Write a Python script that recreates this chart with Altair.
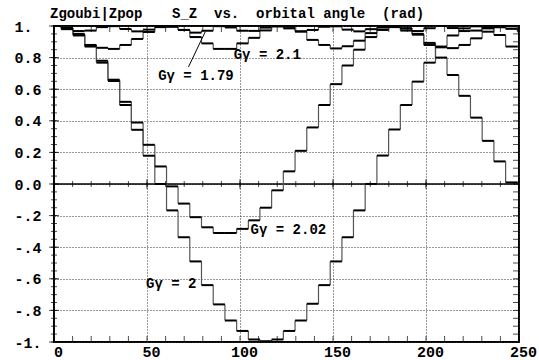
import altair as alt
import pandas as pd

# Orbital angle (rad) at which each one-turn sample starts
ANGLE = [0.0, 3.9, 10.2, 16.5, 22.8, 29.0, 35.3, 41.6, 47.9, 54.2,
         60.5, 66.7, 73.0, 79.3, 85.6, 91.9, 98.2, 104.5, 110.7, 117.0,
         123.3, 129.6, 135.9, 142.2, 148.5, 154.8, 161.0, 167.3, 173.6, 179.9,
         186.2, 192.5, 198.8, 205.1, 211.3, 217.6, 223.9, 230.2, 236.5, 242.8,
         249.1]
X_END = 250.0

# Vertical spin component S_Z, one value per turn
SZ_179 = [1.0, 0.987, 0.968, 0.971, 0.993, 0.999, 0.981, 0.966, 0.977, 0.997,
          0.995, 0.975, 0.958, 0.97, 0.999, 0.991, 0.97, 0.969, 0.99, 1.0,
          0.985, 0.966, 0.975, 0.995, 0.998, 0.977, 0.966, 0.98, 0.999, 0.993,
          0.971, 0.968, 0.986, 1.0, 0.987, 0.968, 0.971, 0.992, 0.999, 0.982,
          0.966]
SZ_210 = [1.0, 0.985, 0.95, 0.875, 0.862, 0.855, 0.88, 0.918, 0.962, 0.993,
          0.998, 0.975, 0.93, 0.89, 0.855, 0.855, 0.89, 0.925, 0.972, 0.997,
          0.995, 0.965, 0.912, 0.88, 0.858, 0.872, 0.907, 0.955, 0.99, 0.999,
          0.985, 0.945, 0.893, 0.865, 0.86, 0.88, 0.922, 0.964, 0.992, 0.998,
          0.98]
SZ_202 = [1.0, 0.98, 0.94, 0.87, 0.78, 0.66, 0.52, 0.389, 0.248, 0.111,
          -0.015, -0.124, -0.21, -0.274, -0.31, -0.31, -0.284, -0.23, -0.15, -0.04,
          0.08, 0.21, 0.358, 0.50, 0.632, 0.75, 0.85, 0.93, 0.975, 0.997,
          0.985, 0.95, 0.88, 0.80, 0.69, 0.558, 0.42, 0.273, 0.143, 0.01,
          0.01]
SZ_200 = [1.0, 0.985, 0.943, 0.88, 0.768, 0.652, 0.50, 0.343, 0.179, 0.0,
          -0.167, -0.337, -0.49, -0.64, -0.762, -0.864, -0.93, -0.984, -0.995, -0.984,
          -0.93, -0.864, -0.758, -0.64, -0.49, -0.337, -0.167, 0.0, 0.18, 0.345,
          0.50, 0.648, 0.768, 0.87, 0.94, 0.985, 0.998, 0.985, 0.943, 0.87,
          0.87]

CURVES = {"1.79": SZ_179, "2.1": SZ_210, "2.02": SZ_202, "2": SZ_200}

# Curve labels and the leader line for the 1.79 label
LABEL_TEXT = ["Gγ = 1.79", "Gγ = 2.1", "Gγ = 2.02", "Gγ = 2"]
LABEL_X = [56.0, 96.6, 105.7, 49.5]
LABEL_Y = [0.684, 0.817, -0.29, -0.632]
LEADER = {"x": 72.3, "y": 0.741, "x2": 81.3, "y2": 0.963}

X_TICKS = [0, 50, 100, 150, 200, 250]
Y_TICKS = [1.0, 0.8, 0.6, 0.4, 0.2, 0.0, -0.2, -0.4, -0.6, -0.8, -1.0]
Y_LABELS = ["1.", "0.8", "0.6", "0.4", "0.2", "0.0", "-.2", "-.4", "-.6", "-.8", "-1."]

TITLE_LEFT = "Zgoubi|Zpop"
TITLE_RIGHT = "S_Z\u00a0\u00a0vs.\u00a0\u00a0orbital\u00a0angle\u00a0\u00a0(rad)"

FONT = "Liberation Mono"

# Step segments: flat part for each turn, riser between turns
flat_rows, rise_rows = [], []
for name, vals in CURVES.items():
    for j, v in enumerate(vals):
        x_next = ANGLE[j + 1] if j + 1 < len(ANGLE) else X_END
        flat_rows.append({"curve": name, "x": ANGLE[j], "x2": x_next, "y": v})
        if j + 1 < len(vals):
            rise_rows.append({"curve": name, "x": ANGLE[j + 1], "y": v, "y2": vals[j + 1]})
flat_df = pd.DataFrame(flat_rows)
rise_df = pd.DataFrame(rise_rows)

xs = alt.Scale(domain=[0, 250], nice=False, zero=False)
ys = alt.Scale(domain=[-1, 1], nice=False, zero=False)

label_expr = "".join(
    f"abs(datum.value - ({v})) < 1e-6 ? '{lab}' : " for v, lab in zip(Y_TICKS, Y_LABELS)
) + "''"

X_AXIS = alt.Axis(values=X_TICKS, grid=True, gridDash=[1, 2], gridColor="#333",
                  gridWidth=1, ticks=False, domain=False, labelFont=FONT,
                  labelFontSize=15, labelFontWeight="bold", labelColor="black",
                  labelPadding=2, labelOffset=4, labelFlush=False, title=None)
Y_AXIS = alt.Axis(values=Y_TICKS, grid=True, gridDash=[1, 2], gridColor="#333",
                  gridWidth=1, ticks=False, domain=False, labelFont=FONT,
                  labelFontSize=15, labelFontWeight="bold", labelColor="black",
                  labelAlign="left", labelBaseline="middle", labelPadding=40,
                  labelExpr=label_expr, labelFlush=False, title=None)


def X(field):
    return alt.X(field, scale=xs, axis=X_AXIS)


def Y(field):
    return alt.Y(field, scale=ys, axis=Y_AXIS)


# Zero line
zero_line = alt.Chart(pd.DataFrame({"y": [0.0]})).mark_rule(color="black", strokeWidth=1.5).encode(
    y=Y("y:Q"))

# Tick marks on frame and zero line
y_minor = [round(-1 + 0.05 * i, 2) for i in range(41)]
y_major = [round(-1 + 0.2 * i, 1) for i in range(11)]
x_minor = [10 * i for i in range(26)]
x_major = [50 * i for i in range(6)]


def yticks(vals, xpos, size, offset=0):
    df = pd.DataFrame({"x": [xpos] * len(vals), "y": vals})
    return alt.Chart(df).mark_tick(orient="horizontal", size=size, thickness=1,
                                   color="black", xOffset=offset).encode(x=X("x:Q"), y=Y("y:Q"))


def xticks(vals, ypos, size, offset=0):
    df = pd.DataFrame({"x": vals, "y": [ypos] * len(vals)})
    return alt.Chart(df).mark_tick(orient="vertical", size=size, thickness=1,
                                   color="black", yOffset=offset).encode(x=X("x:Q"), y=Y("y:Q"))


tick_layers = [
    yticks(y_minor, 0, 6), yticks(y_major, 0, 10),
    yticks(y_minor, 250, 6, -3),
    xticks(x_minor, -1, 6, -3), xticks(x_minor, 1, 6, 3),
    xticks(x_minor, 0, 6), xticks(x_major, 0, 10),
]

flats = alt.Chart(flat_df).mark_rule(color="black", strokeWidth=2).encode(
    x=X("x:Q"), x2="x2:Q", y=Y("y:Q"), detail="curve:N")
risers = alt.Chart(rise_df).mark_rule(color="#555", strokeWidth=1.2).encode(
    x=X("x:Q"), y=Y("y:Q"), y2="y2:Q", detail="curve:N")

labels_df = pd.DataFrame({"text": LABEL_TEXT, "x": LABEL_X, "y": LABEL_Y})
labels = alt.Chart(labels_df).mark_text(font=FONT, fontSize=14, fontWeight="bold",
                                        align="left", baseline="middle", color="black").encode(
    x=X("x:Q"), y=Y("y:Q"), text="text:N")

leader = alt.Chart(pd.DataFrame([LEADER])).mark_rule(color="black", strokeWidth=1).encode(
    x=X("x:Q"), y=Y("y:Q"), x2="x2:Q", y2="y2:Q")

title_df = pd.DataFrame({"t": [TITLE_LEFT, TITLE_RIGHT], "px": [-4, 118]})
title = alt.Chart(title_df).mark_text(font=FONT, fontSize=14, fontWeight="bold",
                                      align="left", baseline="alphabetic", color="black").encode(
    x=alt.X("px:Q", scale=None, axis=None), y=alt.value(-8), text="t:N")

chart = alt.layer(zero_line, *tick_layers, risers, flats, leader, labels, title).properties(
    width=465, height=316,
    autosize=alt.AutoSizeParams(type="none"),
    padding={"left": 54, "top": 26, "right": 20, "bottom": 18},
    background="white",
).configure_view(stroke="black", strokeWidth=2)

chart.save("out.html", embed_options={"renderer": "svg", "actions": False})
